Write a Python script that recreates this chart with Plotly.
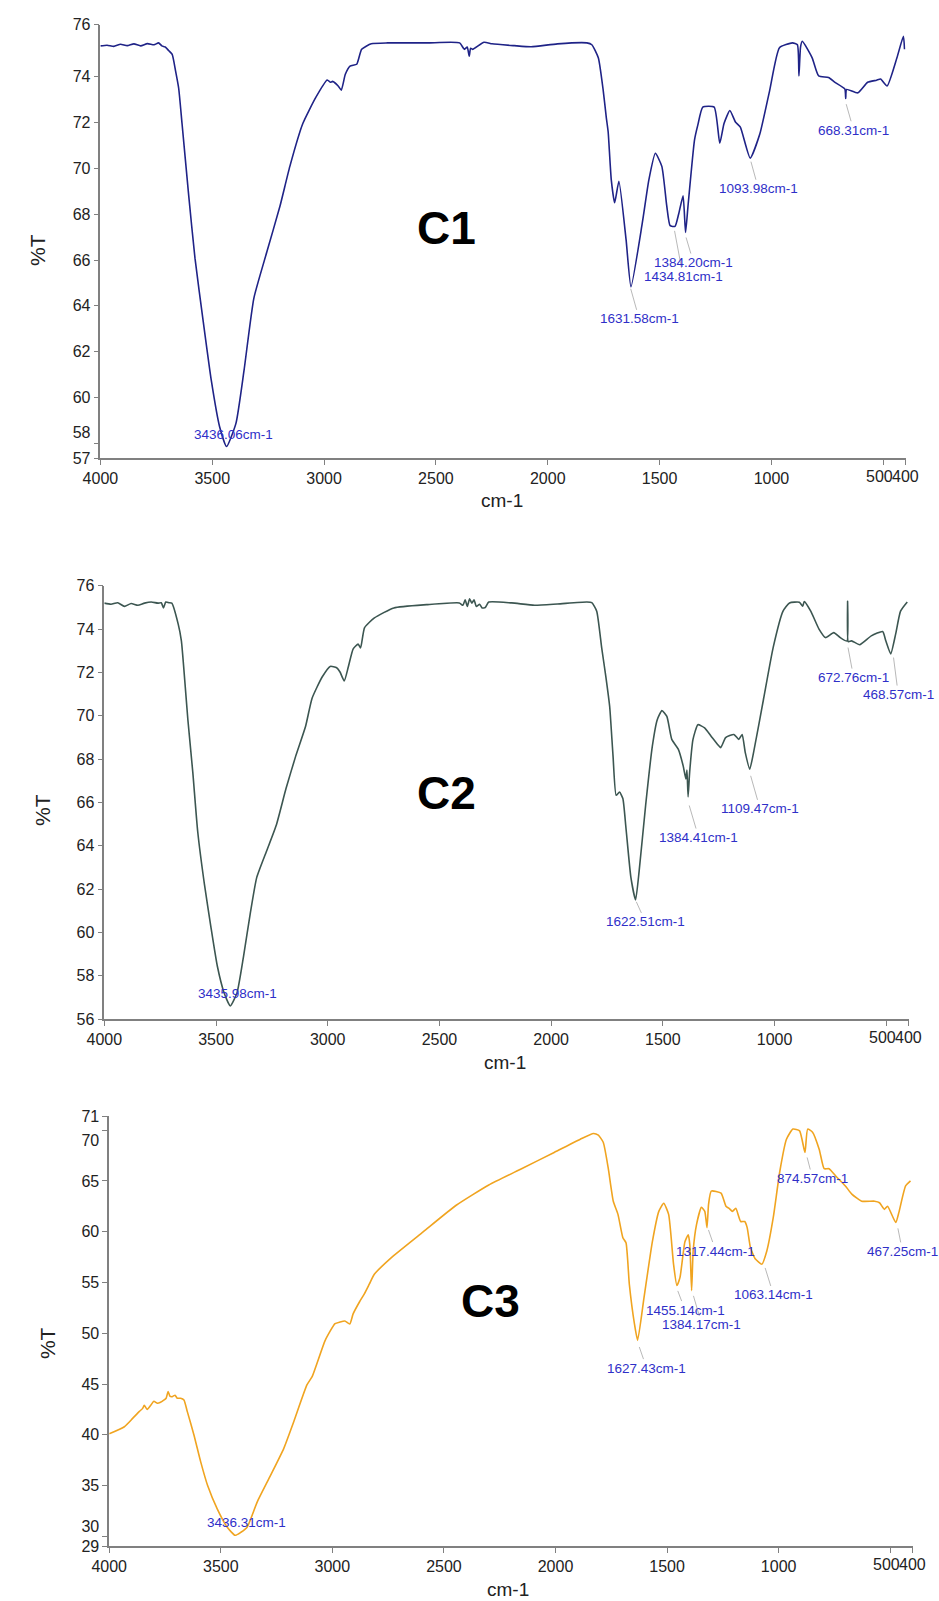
import plotly.graph_objects as go

W, H = 939, 1601

# ---------------- data ----------------
c1_wn = [4000, 3970, 3940, 3910, 3880, 3850, 3820, 3790, 3760, 3740, 3725, 3710, 3695, 3679, 3664,
         3650, 3635, 3606, 3577, 3540, 3504, 3467, 3436, 3394, 3358, 3314, 3256, 3197, 3153, 3095,
         3037, 2986, 2971, 2962, 2937, 2923, 2905, 2884, 2854, 2832, 2789, 2716, 2540, 2394, 2373,
         2360, 2351, 2345, 2336, 2285, 2249, 2150, 2074, 1957, 1825, 1803, 1774, 1752, 1738, 1730,
         1716, 1701, 1682, 1650, 1628, 1577, 1548, 1519, 1490, 1468, 1453, 1431, 1415, 1395, 1384,
         1373, 1344, 1329, 1307, 1256, 1231, 1212, 1186, 1161, 1139, 1095, 1052, 1008, 964, 906,
         884, 877, 870, 862, 818, 789, 745, 716, 672, 668, 664, 614, 570, 530, 512, 483, 439, 410, 405]
c1_t = [75.35, 75.38, 75.33, 75.42, 75.36, 75.44, 75.35, 75.45, 75.40, 75.48, 75.35, 75.30, 75.15, 74.98, 74.26,
        73.50, 71.96, 68.90, 66.07, 63.30, 60.73, 58.72, 57.86, 58.87, 61.17, 64.33, 66.35, 68.36, 70.09, 71.96,
        73.10, 73.86, 73.76, 73.80, 73.60, 73.42, 74.11, 74.47, 74.55, 75.20, 75.44, 75.48, 75.48, 75.48, 75.20,
        75.30, 74.90, 75.25, 75.20, 75.51, 75.44, 75.36, 75.31, 75.44, 75.48, 75.40, 74.83, 73.40, 72.20, 71.60,
        69.50, 68.50, 69.44, 66.90, 64.83, 67.64, 69.50, 70.66, 70.09, 68.36, 67.50, 67.47, 68.00, 68.80, 67.20,
        68.36, 71.24, 71.90, 72.68, 72.68, 71.10, 71.96, 72.53, 72.03, 71.80, 70.45, 71.50, 73.40, 75.27, 75.48,
        75.40, 74.04, 75.30, 75.55, 74.83, 74.04, 73.97, 73.76, 73.47, 73.05, 73.45, 73.30, 73.76, 73.85, 73.90,
        73.60, 74.83, 75.77, 75.20]

c2_wn = [4000, 3970, 3940, 3910, 3880, 3850, 3820, 3790, 3760, 3745, 3735, 3725, 3710, 3698, 3669,
         3655, 3640, 3626, 3604, 3582, 3552, 3523, 3494, 3464, 3436, 3406, 3377, 3347, 3318, 3274,
         3230, 3187, 3143, 3099, 3070, 3025, 2989, 2960, 2945, 2926, 2908, 2886, 2864, 2853, 2835,
         2791, 2704, 2557, 2411, 2395, 2385, 2375, 2365, 2355, 2345, 2335, 2320, 2309, 2295, 2279,
         2177, 2074, 1972, 1840, 1818, 1796, 1774, 1755, 1738, 1723, 1709, 1694, 1679, 1665, 1643,
         1622, 1606, 1577, 1547, 1525, 1504, 1482, 1460, 1431, 1409, 1397, 1392, 1387, 1380, 1365,
         1343, 1313, 1284, 1255, 1241, 1219, 1182, 1160, 1145, 1131, 1111, 1094, 1050, 1006, 962,
         933, 889, 874, 867, 838, 801, 772, 735, 706, 676, 673, 670, 655, 619, 567,
         516, 502, 480, 458, 436, 406]
c2_t = [75.20, 75.15, 75.22, 75.05, 75.18, 75.10, 75.20, 75.25, 75.20, 75.22, 74.98, 75.25, 75.22, 75.20, 74.22,
        73.46, 71.64, 69.82, 67.40, 64.66, 62.23, 60.26, 58.44, 57.22, 56.61, 57.22, 58.89, 60.86, 62.53, 63.75,
        64.96, 66.63, 68.15, 69.52, 70.81, 71.79, 72.28, 72.22, 72.02, 71.61, 72.25, 73.09, 73.31, 73.13, 74.07,
        74.52, 74.98, 75.13, 75.21, 75.10, 75.35, 75.05, 75.40, 75.20, 75.35, 75.05, 75.15, 74.98, 75.00, 75.25,
        75.21, 75.10, 75.16, 75.25, 75.22, 74.83, 73.16, 71.80, 70.43, 68.15, 66.33, 66.48, 66.18, 64.81, 62.54,
        61.50, 62.84, 65.87, 68.60, 69.82, 70.24, 69.97, 68.91, 68.46, 67.69, 67.09, 67.50, 66.26, 67.40, 68.91,
        69.59, 69.44, 69.06, 68.68, 68.53, 68.99, 69.14, 68.91, 69.14, 68.30, 67.54, 68.30, 70.73, 73.16, 74.83,
        75.21, 75.24, 75.06, 75.27, 74.83, 74.00, 73.61, 73.84, 73.61, 73.45, 75.28, 73.42, 73.46, 73.28, 73.69,
        73.89, 73.46, 72.86, 73.77, 74.83, 75.25]

c3_wn = [4000, 3932, 3895, 3866, 3850, 3843, 3830, 3813, 3800, 3784, 3770, 3754, 3745, 3736, 3728,
         3717, 3705, 3695, 3680, 3665, 3650, 3620, 3590, 3559, 3516, 3471, 3436, 3410, 3382, 3337,
         3277, 3218, 3173, 3114, 3090, 3032, 2988, 2966, 2944, 2922, 2907, 2878, 2856, 2834, 2812,
         2738, 2592, 2445, 2299, 2152, 2006, 1889, 1830, 1808, 1786, 1764, 1741, 1720, 1698, 1684,
         1669, 1646, 1632, 1603, 1566, 1537, 1515, 1493, 1471, 1456, 1442, 1420, 1405, 1398, 1390,
         1383, 1368, 1346, 1331, 1321, 1314, 1302, 1258, 1236, 1222, 1207, 1192, 1170, 1152, 1141,
         1126, 1104, 1075, 1053, 1024, 995, 965, 936, 906, 882, 870, 848, 818, 796, 774,
         745, 701, 672, 628, 570, 548, 526, 512, 475, 461, 431, 409]
c3_t = [40.10, 40.79, 41.61, 42.28, 42.60, 42.90, 42.50, 42.93, 43.30, 43.10, 43.20, 43.43, 43.60, 44.26, 43.80,
        43.76, 43.90, 43.60, 43.60, 43.43, 42.28, 39.96, 37.33, 35.00, 32.70, 30.89, 30.10, 30.40, 30.90, 33.37,
        36.00, 38.64, 41.29, 44.91, 45.76, 49.30, 50.94, 51.10, 51.20, 50.90, 51.90, 53.10, 53.90, 54.85, 55.80,
        57.40, 60.00, 62.60, 64.60, 66.20, 67.80, 69.10, 69.67, 69.50, 68.80, 66.30, 63.00, 61.70, 59.40, 58.90,
        54.80, 50.90, 49.30, 53.55, 59.00, 62.00, 62.80, 61.70, 56.80, 54.70, 55.50, 59.00, 59.70, 58.70, 54.20,
        58.10, 60.70, 62.40, 62.00, 60.40, 62.70, 64.00, 63.80, 62.50, 62.30, 62.00, 62.30, 61.00, 61.00, 60.40,
        58.40, 57.30, 56.80, 58.10, 61.40, 65.90, 69.10, 70.10, 69.93, 67.80, 70.10, 69.80, 68.10, 66.20, 66.20,
        65.50, 64.50, 63.70, 63.00, 63.00, 62.85, 62.20, 62.50, 60.90, 61.90, 64.50, 65.00]

x_tickvals = [4000, 3500, 3000, 2500, 2000, 1500, 1000, 500, 400]
x_ticktext = ["4000", "3500", "3000", "2500", "2000", "1500", "1000", "", ""]
# the last two labels sit edge to edge ("500400"), drawn as text beside the ticks
x_end_labels = ["500", "400"]

c1_ytickvals = [57.35, 58, 60, 62, 64, 66, 68, 70, 72, 74, 76.27]
c1_yticktext = ["57", "58<br> ", "60", "62", "64", "66", "68", "70", "72", "74", "76"]
c2_ytickvals = [56, 58, 60, 62, 64, 66, 68, 70, 72, 74, 76]
c2_yticktext = ["56", "58", "60", "62", "64", "66", "68", "70", "72", "74", "76"]
c3_ytickvals = [29, 30, 35, 40, 45, 50, 55, 60, 65, 70, 71.38]
c3_yticktext = ["29", "30<br> ", "35", "40", "45", "50", "55", "60", "65", " <br>70", "71"]

# peak labels: text, wavenumber, %T at the marked point
c1_peaks = ["1631.58cm-1", "1434.81cm-1", "1384.20cm-1", "1093.98cm-1", "668.31cm-1"]
c1_peak_wn = [1631.58, 1434.81, 1384.20, 1093.98, 668.31]
c1_peak_t = [64.83, 67.36, 67.07, 70.38, 72.89]
c1_min_label, c1_min_wn, c1_min_t = "3436.06cm-1", 3436.06, 57.86

c2_peaks = ["1622.51cm-1", "1384.41cm-1", "1109.47cm-1", "672.76cm-1", "468.57cm-1"]
c2_peak_wn = [1622.51, 1384.41, 1109.47, 672.76, 468.57]
c2_peak_t = [61.50, 65.95, 67.32, 73.24, 72.78]
c2_min_label, c2_min_wn, c2_min_t = "3435.98cm-1", 3435.98, 56.61

c3_peaks = ["1627.43cm-1", "1455.14cm-1", "1384.17cm-1", "1317.44cm-1", "1063.14cm-1", "874.57cm-1", "467.25cm-1"]
c3_peak_wn = [1627.43, 1455.14, 1384.17, 1317.44, 1063.14, 874.57, 467.25]
c3_peak_t = [48.83, 54.35, 53.87, 60.36, 56.62, 67.50, 60.52]
c3_min_label, c3_min_wn, c3_min_t = "3436.31cm-1", 3436.31, 30.17

# ---------------- layout geometry (pixels) ----------------
panels = [
    dict(name="C1", box=(84, 905, 17, 455), yr=[57.35, 76.27], color="#1f2387",
         wn=c1_wn, t=c1_t, ytv=c1_ytickvals, ytt=c1_yticktext,
         pk=(c1_peaks, c1_peak_wn, c1_peak_t),
         offs=[(9, 32), (9, 48), (8, 27), (8, 29), (8, 28)],
         mn=(c1_min_label, c1_min_wn, c1_min_t), mshift=(7, 12),
         clabel=(437, 222), tlabel=(20, 245), xlabel=(493, 498)),
    dict(name="C2", box=(88, 908, 584, 1022), yr=[56, 76], color="#3c5651",
         wn=c2_wn, t=c2_t, ytv=c2_ytickvals, ytt=c2_yticktext,
         pk=(c2_peaks, c2_peak_wn, c2_peak_t),
         offs=[(10, 22), (10, 34), (10, 35), (6, 32), (5, 39)],
         mn=(c2_min_label, c2_min_wn, c2_min_t), mshift=(7, 12),
         clabel=(437, 793), tlabel=(25, 811), xlabel=(497, 1066)),
    dict(name="C3", box=(93, 912, 1120, 1555), yr=[29, 71.38], color="#f0a420",
         wn=c3_wn, t=c3_t, ytv=c3_ytickvals, ytt=c3_yticktext,
         pk=(c3_peaks, c3_peak_wn, c3_peak_t),
         offs=[(8, 23), (8, 21), (9, 31), (8, 23), (9, 29), (6, 23), (5, 25)],
         mn=(c3_min_label, c3_min_wn, c3_min_t), mshift=(12, 12),
         clabel=(482, 1307), tlabel=(30, 1349), xlabel=(500, 1598)),
]

FONT = "Liberation Sans, Arial, sans-serif"
AXIS_GRAY = "#808080"
LABEL_BLUE = "#2f2fc8"
TICK_SIZE = 16

fig = go.Figure()
layout = dict(width=W, height=H, margin=dict(l=0, r=0, t=0, b=0),
              paper_bgcolor="white", plot_bgcolor="white", showlegend=False)
annotations = []

for i, p in enumerate(panels, start=1):
    xa = "x" if i == 1 else f"x{i}"
    ya = "y" if i == 1 else f"y{i}"
    x0, x1, yt, yb = p["box"]
    fig.add_trace(go.Scatter(x=p["wn"], y=p["t"], mode="lines",
                             line=dict(color=p["color"], width=1.6, shape="spline", smoothing=0.5),
                             xaxis=xa, yaxis=ya, hoverinfo="skip"))
    common = dict(ticks="outside", ticklen=5, tickwidth=1, tickcolor=AXIS_GRAY,
                  showline=True, linecolor=AXIS_GRAY, linewidth=1.5,
                  showgrid=False, zeroline=False, tickangle=0,
                  tickfont=dict(family=FONT, size=TICK_SIZE, color="#222222"))
    layout["xaxis" if i == 1 else f"xaxis{i}"] = dict(
        common, domain=[x0 / W, x1 / W], range=[4000, 400],
        tickmode="array", tickvals=x_tickvals, ticktext=x_ticktext,
        anchor=ya)
    layout["yaxis" if i == 1 else f"yaxis{i}"] = dict(
        common, domain=[1 - yb / H, 1 - yt / H], range=p["yr"],
        tickmode="array", tickvals=p["ytv"], ticktext=p["ytt"],
        anchor=xa)

    # "500" and "400" labels meeting between their ticks
    junction = 459
    for txt, anchor, dx in ((x_end_labels[0], "right", 0.5), (x_end_labels[1], "left", -0.5)):
        annotations.append(dict(xref=xa, yref="paper", x=junction, y=1 - yb / H,
                                text=txt, showarrow=False, xanchor=anchor,
                                yanchor="top", xshift=dx, yshift=-10,
                                borderpad=0, borderwidth=0,
                                font=dict(family=FONT, size=TICK_SIZE, color="#222222")))

    labels, wns, ts = p["pk"]
    for (lab, w, t), (ax, ay) in zip(zip(labels, wns, ts), p["offs"]):
        annotations.append(dict(xref=xa, yref=ya, x=w, y=t, text=lab,
                                showarrow=True, arrowhead=0, arrowwidth=0.7,
                                arrowcolor="#9a9a9a", ax=ax, ay=ay, standoff=2,
                                font=dict(family=FONT, size=13.5, color=LABEL_BLUE)))
    lab, w, t = p["mn"]
    annotations.append(dict(xref=xa, yref=ya, x=w, y=t, text=lab, showarrow=False,
                            xshift=p["mshift"][0], yshift=p["mshift"][1],
                            font=dict(family=FONT, size=13.5, color=LABEL_BLUE)))
    cx, cy = p["clabel"]
    annotations.append(dict(xref="paper", yref="paper", x=cx / W, y=1 - cy / H,
                            text=f"<b>{p['name']}</b>", showarrow=False,
                            xanchor="center", yanchor="middle",
                            font=dict(family=FONT, size=46, color="black")))
    tx, ty = p["tlabel"]
    annotations.append(dict(xref="paper", yref="paper", x=tx / W, y=1 - ty / H,
                            text="%T", textangle=-90, showarrow=False,
                            xanchor="center", yanchor="middle",
                            font=dict(family=FONT, size=21, color="#222222")))
    lx, ly = p["xlabel"]
    annotations.append(dict(xref="paper", yref="paper", x=lx / W, y=1 - ly / H,
                            text="cm-1", showarrow=False,
                            xanchor="center", yanchor="middle",
                            font=dict(family=FONT, size=19, color="#222222")))

layout["annotations"] = annotations
fig.update_layout(**layout)
fig.write_html("out.html",
               post_script="document.body.style.margin='0';document.body.style.padding='0';")
